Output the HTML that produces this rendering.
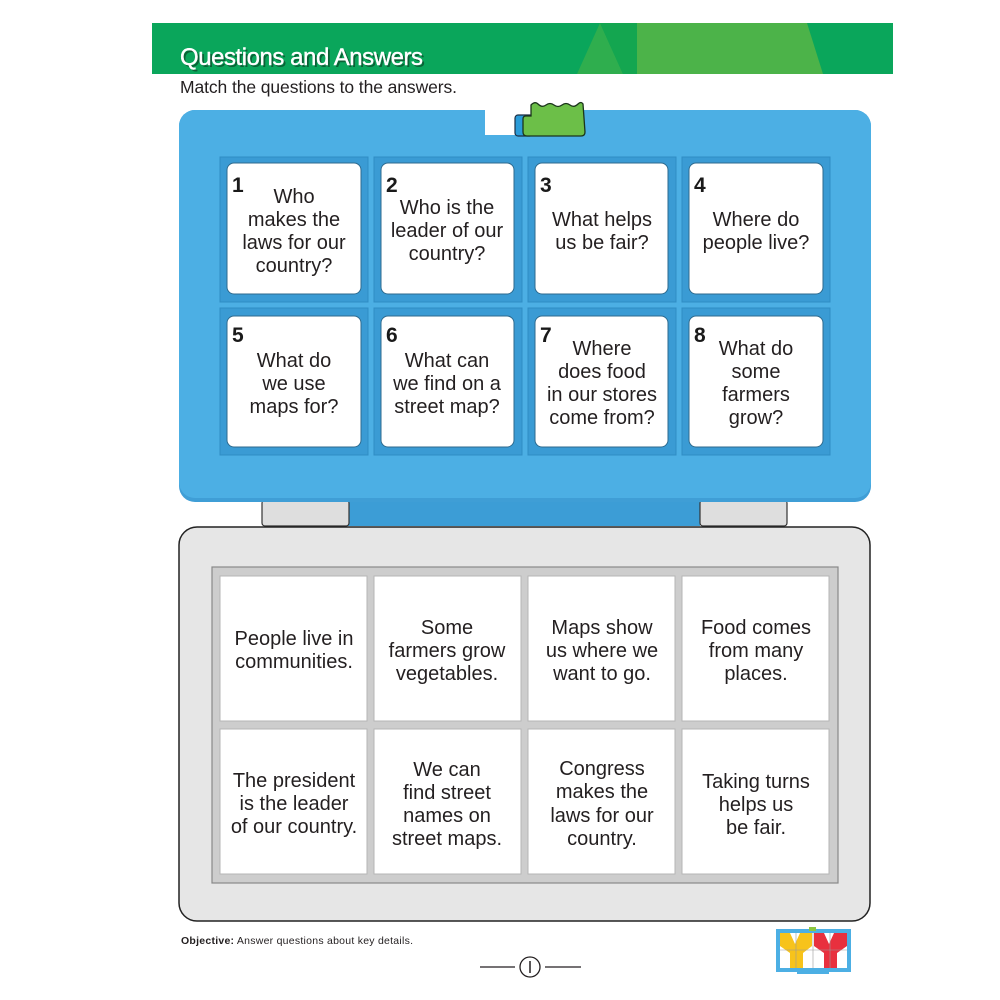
<!DOCTYPE html>
<html>
<head>
<meta charset="utf-8">
<style>
html,body{margin:0;padding:0;background:#fff;}
body{width:1000px;height:1000px;overflow:hidden;}
svg{display:block;}
.q{font-family:"Liberation Sans",sans-serif;font-size:20px;fill:#231f20;text-anchor:middle;}
.n{font-family:"Liberation Sans",sans-serif;font-size:21px;font-weight:bold;fill:#1a1a1a;}
</style>
</head>
<body>
<svg width="1000" height="1000" viewBox="0 0 1000 1000" xmlns="http://www.w3.org/2000/svg">
  <!-- Header band -->
  <rect x="152" y="23" width="741" height="51" fill="#0aa65b"/>
  <polygon points="600,23 577,74 623,74" fill="#2fae4e"/>
  <polygon points="600,23 637,23 637,74 623,74" fill="#14a650"/>
  <polygon points="637,23 807,23 823,74 637,74" fill="#4cb349"/>
  <text x="182" y="67" font-family="Liberation Sans, sans-serif" font-size="24" fill="#0b4a2a" textLength="243" opacity="0.75">Questions and Answers</text>
  <text x="180" y="65" font-family="Liberation Sans, sans-serif" font-size="24" fill="#ffffff" stroke="#ffffff" stroke-width="0.4" textLength="243">Questions and Answers</text>
  <text x="180" y="93" font-family="Liberation Sans, sans-serif" font-size="17.5" fill="#231f20" textLength="277">Match the questions to the answers.</text>

  <!-- hinge strip -->
  <rect x="348" y="490" width="352" height="36" fill="#3c9dd6"/>
  <rect x="262" y="500" width="87" height="26" rx="3" fill="#dedede" stroke="#333" stroke-width="1.2"/>
  <rect x="700" y="500" width="87" height="26" rx="3" fill="#dedede" stroke="#333" stroke-width="1.2"/>

  <!-- Blue panel -->
  <rect x="179" y="110" width="692" height="392" rx="16" fill="#3f9ed6"/>
  <rect x="179" y="110" width="692" height="388" rx="16" fill="#4cafe4"/>
  <!-- notch -->
  <rect x="485" y="106" width="46" height="29" fill="#ffffff"/>
  <rect x="515" y="115" width="18" height="21" rx="3" fill="#2a9bd8" stroke="#1a2f45" stroke-width="1.2"/>
  <path d="M531,105 q4,-4 7,-1 q4,4 8,1 q4,-3 8,0 q4,3 8,0 q4,-3 8,0 q4,3 8,-1 q3,-3 5,0 L585,132 q0,4 -4,4 L527,136 q-4,0 -4,-4 L523,119 q0,-3 3,-3 L531,116 Z" fill="#6cbf48" stroke="#1b351b" stroke-width="1.3"/>

  <!-- question slots -->
  <g fill="#3a9bd4" stroke="#2f8cc4" stroke-width="1">
    <rect x="220" y="157" width="148" height="145"/>
    <rect x="374" y="157" width="148" height="145"/>
    <rect x="528" y="157" width="148" height="145"/>
    <rect x="682" y="157" width="148" height="145"/>
    <rect x="220" y="308" width="148" height="147"/>
    <rect x="374" y="308" width="148" height="147"/>
    <rect x="528" y="308" width="148" height="147"/>
    <rect x="682" y="308" width="148" height="147"/>
  </g>
  <g fill="#ffffff" stroke="#2e6a8e" stroke-width="1">
    <rect x="227" y="163" width="134" height="131" rx="7"/>
    <rect x="381" y="163" width="133" height="131" rx="7"/>
    <rect x="535" y="163" width="133" height="131" rx="7"/>
    <rect x="689" y="163" width="134" height="131" rx="7"/>
    <rect x="227" y="316" width="134" height="131" rx="7"/>
    <rect x="381" y="316" width="133" height="131" rx="7"/>
    <rect x="535" y="316" width="133" height="131" rx="7"/>
    <rect x="689" y="316" width="134" height="131" rx="7"/>
  </g>

  <!-- numbers -->
  <text class="n" x="232" y="192">1</text>
  <text class="n" x="386" y="192">2</text>
  <text class="n" x="540" y="192">3</text>
  <text class="n" x="694" y="192">4</text>
  <text class="n" x="232" y="342">5</text>
  <text class="n" x="386" y="342">6</text>
  <text class="n" x="540" y="342">7</text>
  <text class="n" x="694" y="342">8</text>

  <!-- questions -->
  <text class="q" x="294" y="203">Who</text>
  <text class="q" x="294" y="226">makes the</text>
  <text class="q" x="294" y="249">laws for our</text>
  <text class="q" x="294" y="272">country?</text>

  <text class="q" x="447" y="214">Who is the</text>
  <text class="q" x="447" y="237">leader of our</text>
  <text class="q" x="447" y="260">country?</text>

  <text class="q" x="602" y="226">What helps</text>
  <text class="q" x="602" y="249">us be fair?</text>

  <text class="q" x="756" y="226">Where do</text>
  <text class="q" x="756" y="249">people live?</text>

  <text class="q" x="294" y="367">What do</text>
  <text class="q" x="294" y="390">we use</text>
  <text class="q" x="294" y="413">maps for?</text>

  <text class="q" x="447" y="367">What can</text>
  <text class="q" x="447" y="390">we find on a</text>
  <text class="q" x="447" y="413">street map?</text>

  <text class="q" x="602" y="355">Where</text>
  <text class="q" x="602" y="378">does food</text>
  <text class="q" x="602" y="401">in our stores</text>
  <text class="q" x="602" y="424">come from?</text>

  <text class="q" x="756" y="355">What do</text>
  <text class="q" x="756" y="378">some</text>
  <text class="q" x="756" y="401">farmers</text>
  <text class="q" x="756" y="424">grow?</text>

  <!-- Base panel -->
  <rect x="179" y="527" width="691" height="394" rx="18" fill="#e6e6e6" stroke="#222" stroke-width="1.5"/>
  <rect x="212" y="567" width="626" height="316" fill="#cdcdcd" stroke="#888" stroke-width="1.2"/>
  <g fill="#ffffff" stroke="#b5b5b5" stroke-width="1">
    <rect x="220" y="576" width="147" height="145"/>
    <rect x="374" y="576" width="147" height="145"/>
    <rect x="528" y="576" width="147" height="145"/>
    <rect x="682" y="576" width="147" height="145"/>
    <rect x="220" y="729" width="147" height="145"/>
    <rect x="374" y="729" width="147" height="145"/>
    <rect x="528" y="729" width="147" height="145"/>
    <rect x="682" y="729" width="147" height="145"/>
  </g>

  <!-- answers -->
  <text class="q" x="294" y="645">People live in</text>
  <text class="q" x="294" y="668">communities.</text>

  <text class="q" x="447" y="634">Some</text>
  <text class="q" x="447" y="657">farmers grow</text>
  <text class="q" x="447" y="680">vegetables.</text>

  <text class="q" x="602" y="634">Maps show</text>
  <text class="q" x="602" y="657">us where we</text>
  <text class="q" x="602" y="680">want to go.</text>

  <text class="q" x="756" y="634">Food comes</text>
  <text class="q" x="756" y="657">from many</text>
  <text class="q" x="756" y="680">places.</text>

  <text class="q" x="294" y="787">The president</text>
  <text class="q" x="294" y="810">is the leader</text>
  <text class="q" x="294" y="833">of our country.</text>

  <text class="q" x="447" y="776">We can</text>
  <text class="q" x="447" y="799">find street</text>
  <text class="q" x="447" y="822">names on</text>
  <text class="q" x="447" y="845">street maps.</text>

  <text class="q" x="602" y="775">Congress</text>
  <text class="q" x="602" y="798">makes the</text>
  <text class="q" x="602" y="822">laws for our</text>
  <text class="q" x="602" y="845">country.</text>

  <text class="q" x="756" y="788">Taking turns</text>
  <text class="q" x="756" y="811">helps us</text>
  <text class="q" x="756" y="834">be fair.</text>

  <!-- Objective -->
  <text x="181" y="944" font-family="Liberation Sans, sans-serif" font-size="10.5" fill="#231f20" textLength="232"><tspan font-weight="bold">Objective:</tspan>  Answer questions about key details.</text>

  <!-- page number -->
  <line x1="480" y1="967" x2="515" y2="967" stroke="#231f20" stroke-width="1.3"/>
  <line x1="545" y1="967" x2="581" y2="967" stroke="#231f20" stroke-width="1.3"/>
  <circle cx="530" cy="967" r="10" fill="none" stroke="#231f20" stroke-width="1.3"/>
  <line x1="530" y1="961" x2="530" y2="973" stroke="#231f20" stroke-width="1.5"/>

  <!-- logo -->
  <rect x="797" y="970" width="32" height="4" fill="#4cafe4"/>
  <rect x="776" y="929" width="75" height="43" fill="#4cafe4"/>
  <rect x="780" y="933" width="67" height="35" fill="#ffffff"/>
  <polygon points="780,933 790,933 795,944 800,933 812,933 812,946 803,953 803,968 790,968 790,953 780,946" fill="#f7c31b"/>
  <polygon points="814,933 824,933 829,944 834,933 847,933 847,946 837,953 837,968 824,968 824,953 814,946" fill="#e8303e"/>
  <g stroke="#9a9a9a" stroke-width="0.6">
    <line x1="796" y1="933" x2="796" y2="968"/>
    <line x1="813" y1="933" x2="813" y2="968"/>
    <line x1="830" y1="933" x2="830" y2="968"/>
    <line x1="780" y1="950" x2="847" y2="950"/>
  </g>
  <rect x="809" y="927" width="7" height="4" fill="#8cc63f"/>
</svg>
</body>
</html>
